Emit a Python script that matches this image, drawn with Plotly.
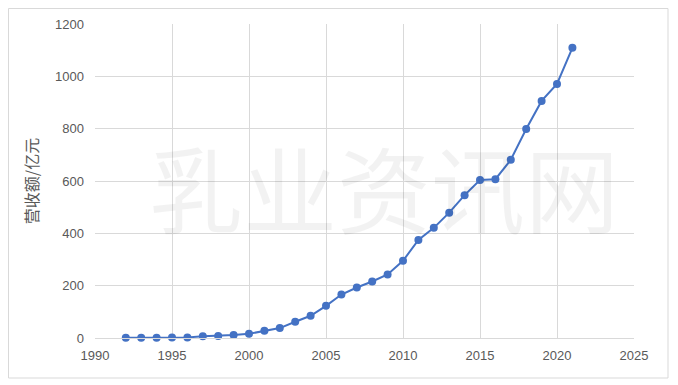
import plotly.graph_objects as go

years = list(range(1992, 2022))
revenue = [1, 1, 1, 2, 2, 7, 8, 11, 16, 28, 38, 62, 85, 123, 166, 193, 216, 243,
           295, 375, 421, 479, 546, 604, 607, 681, 799, 906, 971, 1109]

y_title = "营收额/亿元"
watermark = "乳业资讯网"

# page has an 8px body margin; figure placed at (8, 8)
OFF = 8
W, H = 662, 372
L = 95 - OFF
T = 24 - OFF
R = W - (634 - OFF)
B = H - (338 - OFF)
pw, ph = W - L - R, H - T - B

fig = go.Figure()
fig.add_trace(go.Scatter(
    x=years, y=revenue, mode="lines+markers",
    line=dict(color="#4472C4", width=2),
    marker=dict(color="#4472C4", size=8),
    showlegend=False, cliponaxis=False,
))

axis_font = dict(family="Liberation Sans, Arial, sans-serif", size=13, color="#595959")
fig.update_xaxes(range=[1990, 2025], dtick=5, tick0=1990, showgrid=True, gridcolor="#d9d9d9",
                 gridwidth=1, zeroline=False, showline=True, linecolor="#d9d9d9",
                 tickfont=axis_font, ticks="", ticklabelstandoff=5, fixedrange=True)
fig.update_yaxes(range=[0, 1200], dtick=200, showgrid=True, gridcolor="#d9d9d9", gridwidth=1,
                 zeroline=False, showline=False, tickfont=axis_font, ticks="", ticklabelstandoff=10,
                 title=dict(text=y_title, font=dict(family="Noto Sans CJK SC", size=16, color="#595959"),
                            standoff=12))

def px_x(p):
    return (p - OFF - L) / pw

def px_y(p):
    return 1 - (p - OFF - T) / ph

fig.add_shape(type="rect", xref="paper", yref="paper",
              x0=px_x(8.5), x1=px_x(668), y0=px_y(378), y1=px_y(8.5),
              line=dict(color="#d9d9d9", width=1), layer="below")

fig.add_annotation(text=watermark, xref="paper", yref="paper", x=px_x(384), y=px_y(186),
                   showarrow=False, font=dict(family="Noto Sans CJK SC", size=94, color="rgba(0,0,0,0.05)"))

fig.update_layout(
    width=W, height=H, margin=dict(l=L, r=R, t=T, b=B, autoexpand=False),
    paper_bgcolor="white", plot_bgcolor="white",
)

fig.write_html("out.html")
